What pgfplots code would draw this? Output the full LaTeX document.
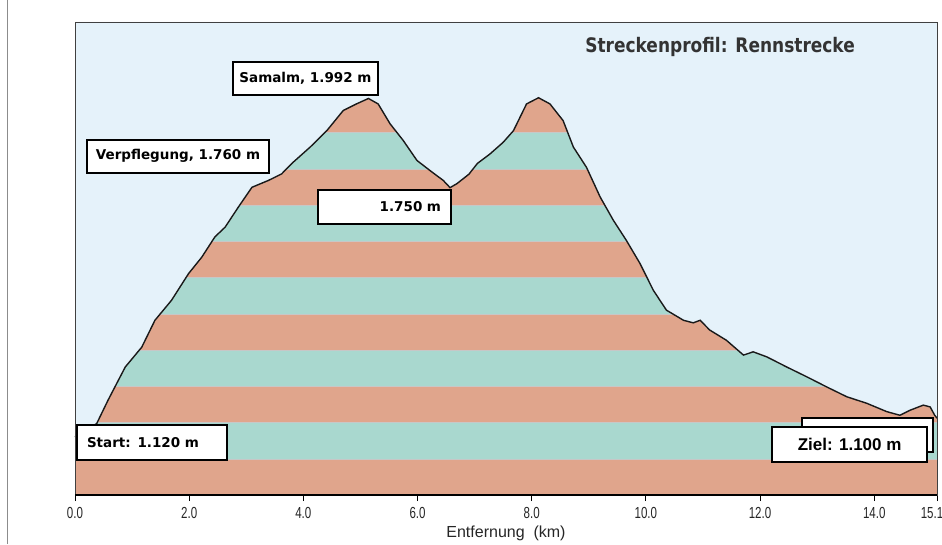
\documentclass[border=0pt]{standalone}
\usepackage{fontspec}
\setmainfont{DejaVu Sans}
\newfontfamily\narrow[FakeStretch=0.72]{Liberation Sans}
\newfontfamily\lsans{Liberation Sans}
\newfontfamily\titlefont[FakeStretch=0.85]{DejaVu Sans}
\usepackage{pgfplots}
\usepackage{pgfplotstable}
\pgfplotsset{compat=1.18}
\usepgfplotslibrary{fillbetween}
\definecolor{salmon}{HTML}{E0A58C}
\definecolor{teal}{HTML}{A9D8CF}
\definecolor{skyback}{HTML}{E5F2FA}
\pgfplotstableread{
km elev
0.00 1060
0.15 1075
0.38 1097
0.58 1162
0.88 1253
1.17 1308
1.40 1382
1.69 1437
1.99 1511
2.22 1556
2.45 1612
2.63 1639
2.86 1694
3.10 1749
3.39 1768
3.62 1786
3.80 1815
4.12 1860
4.41 1905
4.70 1961
4.93 1979
5.14 1994
5.31 1979
5.52 1924
5.75 1878
5.99 1823
6.22 1795
6.45 1768
6.57 1748
6.69 1759
6.90 1785
7.05 1815
7.27 1841
7.50 1873
7.68 1905
7.91 1979
8.12 1996
8.32 1979
8.55 1933
8.73 1860
8.96 1804
9.20 1722
9.43 1658
9.66 1602
9.90 1538
10.13 1465
10.36 1410
10.66 1382
10.83 1375
10.95 1382
11.12 1355
11.41 1327
11.71 1286
11.88 1295
12.12 1281
12.47 1253
12.82 1226
13.17 1198
13.52 1171
13.87 1153
14.22 1130
14.45 1120
14.63 1134
14.86 1148
14.98 1143
15.06 1120
15.10 1112
}\profile
\begin{document}
\begin{tikzpicture}
\path (-75pt,-49pt) rectangle (867pt,495pt);
\draw[black!45, line width=0.8pt] (-68pt,-49pt) -- (-68pt,495pt);
\begin{axis}[
  at={(0,0)}, anchor=south west,
  scale only axis, width=862pt, height=473pt,
  xmin=0, xmax=15.1, ymin=900, ymax=2205,
  axis background/.style={fill=skyback},
  ytick=\empty,
  xtick={0,2,4,6,8,10,12,14},
  xticklabels={0.0,2.0,4.0,6.0,8.0,10.0,12.0,14.0},
  extra x ticks={15.1},
  extra x tick labels={15.1},
  extra x tick style={xticklabel style={xshift=-5pt}},
  xtick pos=bottom,
  tick align=outside, major tick length=6pt,
  tick style={black, line width=1pt},
  ticklabel style={font=\narrow\fontsize{16}{16}\selectfont, text=black!85, yshift=-3pt},
  xlabel={Entfernung\ \ (km)},
  xlabel style={font=\lsans\fontsize{16}{16}\selectfont, text=black!85,
    at={(axis description cs:0.5,0)}, anchor=base, yshift=-42pt},
  axis line style={black!75, line width=0.8pt},
  clip=false,
]
% horizontal colour bands across the whole width
\addplot[fill=salmon, draw=none] coordinates {(0,900) (15.1,900) (15.1,2000) (0,2000)} -- cycle;
\addplot[fill=teal, draw=black!22, line width=0.5pt] coordinates {(0,1000) (15.1,1000) (15.1,1100) (0,1100)} -- cycle;
\addplot[fill=teal, draw=black!22, line width=0.5pt] coordinates {(0,1200) (15.1,1200) (15.1,1300) (0,1300)} -- cycle;
\addplot[fill=teal, draw=black!22, line width=0.5pt] coordinates {(0,1400) (15.1,1400) (15.1,1500) (0,1500)} -- cycle;
\addplot[fill=teal, draw=black!22, line width=0.5pt] coordinates {(0,1600) (15.1,1600) (15.1,1700) (0,1700)} -- cycle;
\addplot[fill=teal, draw=black!22, line width=0.5pt] coordinates {(0,1800) (15.1,1800) (15.1,1900) (0,1900)} -- cycle;
% sky above the profile
\addplot[draw=none, name path=prof] table[x=km, y=elev] {\profile};
\addplot[draw=none, name path=top] coordinates {(0,2205) (15.1,2205)};
\addplot[skyback] fill between[of=prof and top, on layer=main];
\addplot[black!90, line width=1.4pt] table[x=km, y=elev] {\profile};
\draw[black!75, line width=0.8pt] (rel axis cs:0,0) rectangle (rel axis cs:1,1);
\draw[black, line width=2pt] (rel axis cs:0,0) -- (rel axis cs:1,0);

\tikzset{lbl/.style={draw=black, line width=1.8pt, fill=white, inner sep=0pt,
  font=\bfseries\fontsize{13.5}{13.5}\selectfont}}
\node[lbl, minimum width=145pt, minimum height=33pt] at (axis cs:4.037,2050) {Samalm, 1.992 m};
\node[lbl, minimum width=182pt, minimum height=33pt] at (axis cs:1.804,1835) {Verpflegung, 1.760 m};
\node[lbl, minimum height=34pt, text width=113pt, align=right, inner xsep=10pt] at (axis cs:5.421,1695) {1.750 m};
\node[lbl, minimum height=35pt, text width=130pt, align=left, inner xsep=10pt] at (axis cs:1.349,1045) {Start: 1.120 m};
\node[lbl, minimum width=131pt, minimum height=34pt] at (axis cs:13.88,1065) {};
\node[lbl, minimum width=155pt, minimum height=35pt, font=\lsans\bfseries\fontsize{17}{17}\selectfont] at (axis cs:13.57,1039) {Ziel: 1.100 m};
\node[font=\titlefont\bfseries\fontsize{20}{20}\selectfont, text=black!80] at (axis cs:11.30,2135) {Streckenprofil: Rennstrecke};
\end{axis}
\pgfresetboundingbox
\path[use as bounding box] (-75pt,-49pt) rectangle (867pt,495pt);
\end{tikzpicture}
\end{document}
